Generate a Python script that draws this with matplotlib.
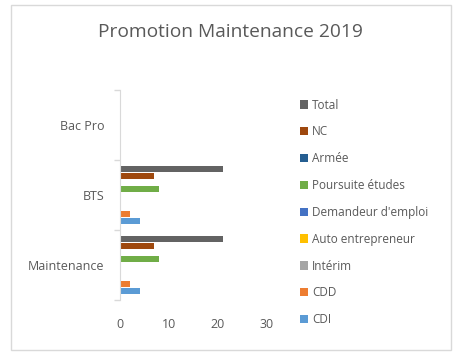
import matplotlib
matplotlib.use("Agg")
import matplotlib.pyplot as plt
from matplotlib.patches import Rectangle
import numpy as np

plt.rcParams['font.family'] = ['Open Sans', 'DejaVu Sans']

categories = ["Maintenance", "BTS", "Bac Pro"]
series = ["CDI", "CDD", "Intérim", "Auto entrepreneur", "Demandeur d'emploi",
          "Poursuite études", "Armée", "NC", "Total"]
values = {
    "CDI": [4, 4, 0],
    "CDD": [2, 2, 0],
    "Intérim": [0, 0, 0],
    "Auto entrepreneur": [0, 0, 0],
    "Demandeur d'emploi": [0, 0, 0],
    "Poursuite études": [8, 8, 0],
    "Armée": [0, 0, 0],
    "NC": [7, 7, 0],
    "Total": [21, 21, 0],
}
colors = {
    "CDI": "#5b9bd5",
    "CDD": "#ed7d31",
    "Intérim": "#a5a5a5",
    "Auto entrepreneur": "#ffc000",
    "Demandeur d'emploi": "#4472c4",
    "Poursuite études": "#70ad47",
    "Armée": "#255e91",
    "NC": "#9e480e",
    "Total": "#636363",
}
xticks = [0, 10, 20, 30]

W, H = 463, 356
fig = plt.figure(figsize=(W / 100, H / 100), dpi=100)

# chart border
fig.patches.append(Rectangle((11 / W, 1 - 350 / H), (451 - 11) / W, (350 - 5) / H,
                             transform=fig.transFigure, fill=False,
                             edgecolor="#d9d9d9", linewidth=1))

# axes: x from 120 to 267 px (0..30), y from 90 to 300 px
left, right = 120, 267
top, bottom = 90, 300
ax = fig.add_axes([left / W, 1 - bottom / H, (right - left) / W, (bottom - top) / H])

n = len(series)
slot = 6.4 / 70.0
bar_h = 6.0 / 70.0
y = np.arange(len(categories))
for i, s in enumerate(series):
    offs = (i - (n - 1) / 2) * slot
    ax.barh(y + offs, values[s], height=bar_h, color=colors[s], label=s)

ax.set_xlim(0, 30)
ax.set_ylim(-0.5, len(categories) - 0.5)
ax.set_xticks(xticks)
ax.set_xticklabels([str(t) for t in xticks], fontsize=9, color="#595959")
ax.tick_params(axis="x", length=0, pad=13)
ax.set_yticks(y)
ax.set_yticklabels(categories, fontsize=9, color="#595959")
ax.set_yticks(np.arange(len(categories) + 1) - 0.5, minor=True)
ax.tick_params(axis="y", which="major", length=0, pad=11)
ax.tick_params(axis="y", which="minor", length=4, color="#d9d9d9", width=1)
for sp in ["top", "right", "bottom"]:
    ax.spines[sp].set_visible(False)
ax.spines["left"].set_color("#d9d9d9")

fig.text(230 / W, 1 - 32 / H, "Promotion Maintenance 2019", ha="center", va="center",
         fontsize=13.8, color="#595959")

handles, labels = ax.get_legend_handles_labels()
leg = fig.legend(handles[::-1], labels[::-1], loc="upper left",
                 bbox_to_anchor=(289 / W, 1 - 88 / H), frameon=False,
                 fontsize=8.5, labelcolor="#595959", handlelength=0.7,
                 handleheight=0.7, handletextpad=0.35, labelspacing=1.17)

fig.savefig("out.png", dpi=100)
